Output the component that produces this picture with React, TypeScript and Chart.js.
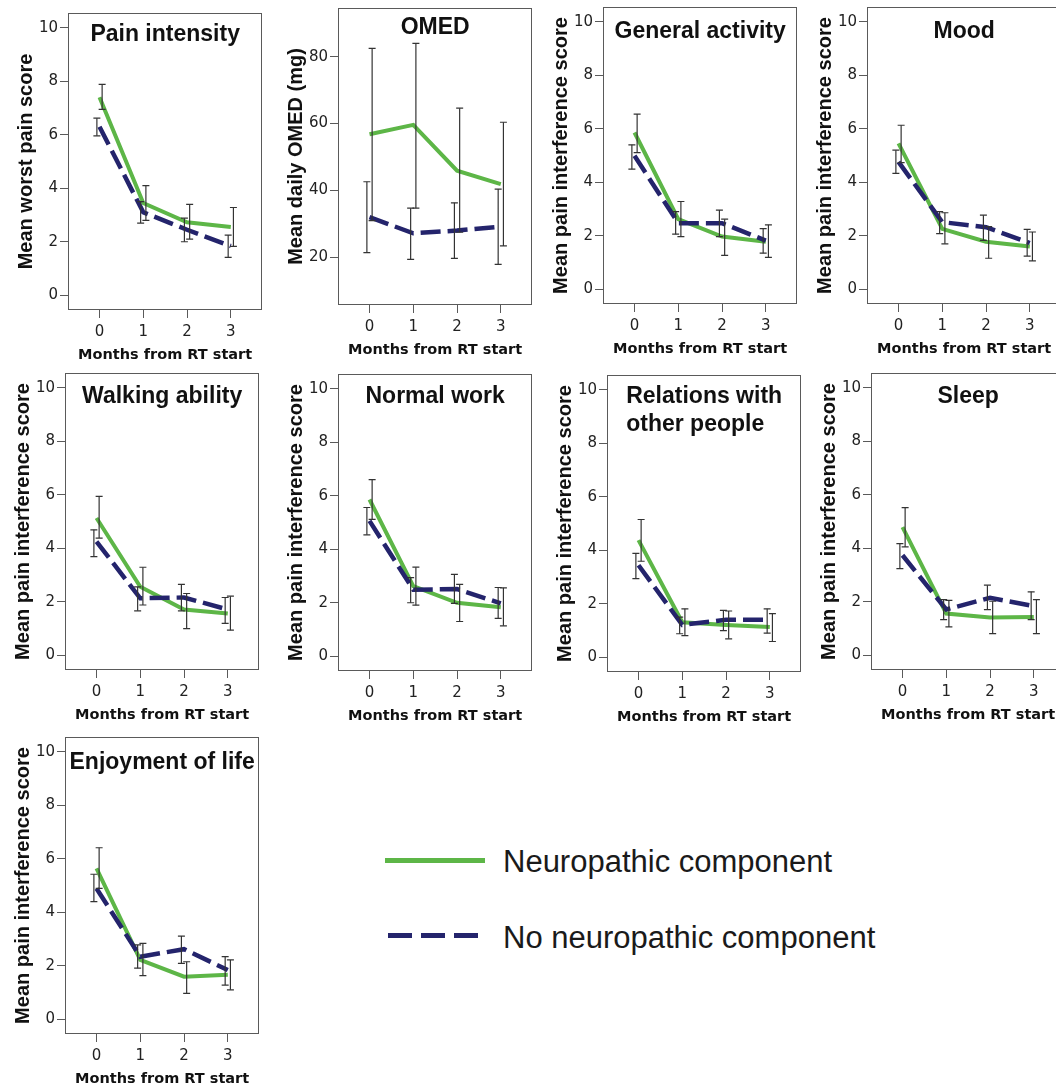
import React, { useEffect, useRef } from "react";
import { Chart, registerables } from "chart.js";

Chart.register(...registerables);

// ---------- data ----------
const months = [0, 1, 2, 3];
const scoreTicks = [0, 2, 4, 6, 8, 10];
const omedTicks = [20, 40, 60, 80];
const seriesNames = ["Neuropathic component", "No neuropathic component"];
const xAxisLabel = "Months from RT start";
const interferenceLabel = "Mean pain interference score";

// Pain intensity
const painNeuro = [7.4, 3.45, 2.73, 2.55];
const painNeuroLow = [6.95, 2.8, 2.1, 1.83];
const painNeuroHigh = [7.88, 4.1, 3.4, 3.28];
const painNone = [6.3, 3.1, 2.45, 1.84];
const painNoneLow = [5.96, 2.7, 2.0, 1.42];
const painNoneHigh = [6.62, 3.5, 2.88, 2.25];

// OMED
const omedNeuro = [56.8, 59.6, 45.9, 41.9];
const omedNeuroLow = [31, 34.7, 27.5, 23.4];
const omedNeuroHigh = [82.5, 84, 64.6, 60.4];
const omedNone = [32, 27.2, 28, 29.2];
const omedNoneLow = [21.4, 19.4, 19.7, 17.9];
const omedNoneHigh = [42.6, 34.7, 36.3, 40.4];

// General activity
const activityNeuro = [5.86, 2.62, 1.97, 1.78];
const activityNeuroLow = [5.11, 1.97, 1.27, 1.19];
const activityNeuroHigh = [6.55, 3.28, 2.62, 2.41];
const activityNone = [4.99, 2.47, 2.47, 1.82];
const activityNoneLow = [4.49, 2.06, 1.97, 1.35];
const activityNoneHigh = [5.4, 2.9, 2.96, 2.27];

// Mood
const moodNeuro = [5.45, 2.26, 1.78, 1.6];
const moodNeuroLow = [4.73, 1.7, 1.16, 1.06];
const moodNeuroHigh = [6.13, 2.86, 2.34, 2.14];
const moodNone = [4.76, 2.51, 2.32, 1.73];
const moodNoneLow = [4.33, 2.08, 1.83, 1.24];
const moodNoneHigh = [5.2, 2.9, 2.77, 2.24];

// Walking ability
const walkNeuro = [5.13, 2.56, 1.71, 1.56];
const walkNeuroLow = [4.38, 1.88, 1.0, 0.94];
const walkNeuroHigh = [5.94, 3.29, 2.31, 2.21];
const walkNone = [4.25, 2.13, 2.16, 1.71];
const walkNoneLow = [3.69, 1.66, 1.66, 1.19];
const walkNoneHigh = [4.69, 2.56, 2.65, 2.16];

// Normal work
const workNeuro = [5.86, 2.62, 2.0, 1.83];
const workNeuroLow = [5.12, 1.91, 1.3, 1.14];
const workNeuroHigh = [6.6, 3.33, 2.69, 2.56];
const workNone = [5.06, 2.49, 2.51, 1.98];
const workNoneLow = [4.54, 2.0, 1.98, 1.42];
const workNoneHigh = [5.56, 2.94, 3.06, 2.57];

// Relations with other people
const relNeuro = [4.38, 1.31, 1.21, 1.13];
const relNeuroLow = [3.59, 0.81, 0.69, 0.59];
const relNeuroHigh = [5.15, 1.81, 1.73, 1.63];
const relNone = [3.44, 1.21, 1.4, 1.4];
const relNoneLow = [2.94, 0.88, 1.0, 0.9];
const relNoneHigh = [3.88, 1.5, 1.75, 1.81];

// Sleep
const sleepNeuro = [4.79, 1.56, 1.41, 1.43];
const sleepNeuroLow = [4.05, 1.06, 0.81, 0.81];
const sleepNeuroHigh = [5.52, 2.05, 2.02, 2.08];
const sleepNone = [3.74, 1.71, 2.15, 1.84];
const sleepNoneLow = [3.24, 1.33, 1.71, 1.33];
const sleepNoneHigh = [4.17, 2.08, 2.62, 2.37];

// Enjoyment of life
const enjoyNeuro = [5.64, 2.22, 1.59, 1.66];
const enjoyNeuroLow = [4.89, 1.63, 0.97, 1.1];
const enjoyNeuroHigh = [6.41, 2.84, 2.15, 2.22];
const enjoyNone = [4.89, 2.34, 2.62, 1.84];
const enjoyNoneLow = [4.4, 1.91, 2.09, 1.28];
const enjoyNoneHigh = [5.42, 2.78, 3.11, 2.34];

const panels = [
  { title: ["Pain intensity"], yLabel: "Mean worst pain score", yTicks: scoreTicks, yMin: -0.55, yMax: 10.55,
    neuro: painNeuro, neuroLow: painNeuroLow, neuroHigh: painNeuroHigh, none: painNone, noneLow: painNoneLow, noneHigh: painNoneHigh },
  { title: ["OMED"], yLabel: "Mean daily OMED (mg)", yTicks: omedTicks, yMin: 5.74, yMax: 94.56,
    neuro: omedNeuro, neuroLow: omedNeuroLow, neuroHigh: omedNeuroHigh, none: omedNone, noneLow: omedNoneLow, noneHigh: omedNoneHigh },
  { title: ["General activity"], yLabel: interferenceLabel, yTicks: scoreTicks, yMin: -0.55, yMax: 10.55,
    neuro: activityNeuro, neuroLow: activityNeuroLow, neuroHigh: activityNeuroHigh, none: activityNone, noneLow: activityNoneLow, noneHigh: activityNoneHigh },
  { title: ["Mood"], yLabel: interferenceLabel, yTicks: scoreTicks, yMin: -0.55, yMax: 10.55,
    neuro: moodNeuro, neuroLow: moodNeuroLow, neuroHigh: moodNeuroHigh, none: moodNone, noneLow: moodNoneLow, noneHigh: moodNoneHigh },
  { title: ["Walking ability"], yLabel: interferenceLabel, yTicks: scoreTicks, yMin: -0.55, yMax: 10.55,
    neuro: walkNeuro, neuroLow: walkNeuroLow, neuroHigh: walkNeuroHigh, none: walkNone, noneLow: walkNoneLow, noneHigh: walkNoneHigh },
  { title: ["Normal work"], yLabel: interferenceLabel, yTicks: scoreTicks, yMin: -0.55, yMax: 10.55,
    neuro: workNeuro, neuroLow: workNeuroLow, neuroHigh: workNeuroHigh, none: workNone, noneLow: workNoneLow, noneHigh: workNoneHigh },
  { title: ["Relations with", "other people"], yLabel: interferenceLabel, yTicks: scoreTicks, yMin: -0.55, yMax: 10.55,
    neuro: relNeuro, neuroLow: relNeuroLow, neuroHigh: relNeuroHigh, none: relNone, noneLow: relNoneLow, noneHigh: relNoneHigh },
  { title: ["Sleep"], yLabel: interferenceLabel, yTicks: scoreTicks, yMin: -0.55, yMax: 10.55,
    neuro: sleepNeuro, neuroLow: sleepNeuroLow, neuroHigh: sleepNeuroHigh, none: sleepNone, noneLow: sleepNoneLow, noneHigh: sleepNoneHigh },
  { title: ["Enjoyment of life"], yLabel: interferenceLabel, yTicks: scoreTicks, yMin: -0.55, yMax: 10.55,
    neuro: enjoyNeuro, neuroLow: enjoyNeuroLow, neuroHigh: enjoyNeuroHigh, none: enjoyNone, noneLow: enjoyNoneLow, noneHigh: enjoyNoneHigh },
];

// ---------- layout & style ----------
const boxes = [
  { left: 68, top: 13, titleDy: 22 },
  { left: 338, top: 8, titleDy: 20 },
  { left: 603, top: 7, titleDy: 25 },
  { left: 867, top: 7, titleDy: 25 },
  { left: 65, top: 373, titleDy: 24 },
  { left: 338, top: 374, titleDy: 23 },
  { left: 607, top: 375, titleDy: 22 },
  { left: 871, top: 373, titleDy: 24 },
  { left: 65, top: 737, titleDy: 26 },
];

const AXIS_W = 68;
const BOX_W = 197;
const BOX_H = 297;
const PAD_TOP = 5;
const PAD_RIGHT = 2;
const XAXIS_H = 60;
const CW = AXIS_W + BOX_W + PAD_RIGHT;
const CH = PAD_TOP + BOX_H + XAXIS_H;

const GREEN = "#5db647";
const NAVY = "#24246c";
const BAR = "#333333";
const FRAME = "#5a5a5a";
const SANS = '"Liberation Sans", Arial, Helvetica, sans-serif';
const DEJAVU = '"DejaVu Sans", Verdana, sans-serif';

const framePlugin = {
  id: "panelFrame",
  afterDraw(chart: any, _args: any, opts: any) {
    const { ctx, chartArea: a } = chart;
    ctx.save();
    ctx.strokeStyle = FRAME;
    ctx.lineWidth = 1;
    ctx.strokeRect(Math.round(a.left) + 0.5, Math.round(a.top) + 0.5, Math.round(a.right - a.left) - 1, Math.round(a.bottom - a.top) - 1);
    ctx.font = `bold 23px ${SANS}`;
    ctx.fillStyle = "#111";
    ctx.textBaseline = "middle";
    ctx.textAlign = "left";
    const lines: string[] = opts.lines || [];
    const widths = lines.map((l) => ctx.measureText(l).width);
    const maxW = Math.max(...widths);
    const cx = (a.left + a.right) / 2;
    lines.forEach((l, i) => {
      const x = lines.length > 1 ? cx - maxW / 2 : cx - widths[i] / 2;
      ctx.fillText(l, x, a.top + opts.dy + i * 28);
    });
    ctx.restore();
  },
};

function errorData(low: number[], high: number[], off: number) {
  const pts: any[] = [];
  months.forEach((m, i) => {
    pts.push({ x: m + off, y: low[i] }, { x: m + off, y: high[i] }, { x: m + off, y: null });
  });
  return pts;
}

function errorDataset(low: number[], high: number[], off: number) {
  return {
    data: errorData(low, high, off),
    borderColor: BAR,
    borderWidth: 1.2,
    pointStyle: "line",
    pointRadius: 3.5,
    pointHoverRadius: 3.5,
    pointBorderColor: BAR,
    pointBorderWidth: 1.2,
    spanGaps: false,
    order: 1,
  };
}

function buildConfig(p: any, box: any): any {
  return {
    type: "line",
    data: {
      datasets: [
        {
          label: seriesNames[0],
          data: months.map((m, i) => ({ x: m, y: p.neuro[i] })),
          borderColor: GREEN,
          borderWidth: 4,
          pointRadius: 0,
          tension: 0,
          order: 3,
        },
        {
          label: seriesNames[1],
          data: months.map((m, i) => ({ x: m, y: p.none[i] })),
          borderColor: NAVY,
          borderWidth: 4.5,
          borderDash: [20, 7],
          pointRadius: 0,
          tension: 0,
          order: 2,
        },
        errorDataset(p.noneLow, p.noneHigh, -0.06),
        errorDataset(p.neuroLow, p.neuroHigh, 0.06),
      ],
    },
    options: {
      responsive: false,
      animation: false,
      devicePixelRatio: 1,
      layout: { padding: { left: 0, top: PAD_TOP, right: PAD_RIGHT, bottom: 0 } },
      plugins: {
        legend: { display: false },
        tooltip: { enabled: false },
        panelFrame: { lines: p.title, dy: box.titleDy },
      },
      scales: {
        x: {
          type: "linear",
          min: -0.72,
          max: 3.72,
          afterBuildTicks: (s: any) => {
            s.ticks = months.map((v) => ({ value: v }));
          },
          afterFit: (s: any) => {
            s.height = XAXIS_H;
            s.paddingLeft = 0;
            s.paddingRight = 0;
          },
          grid: { drawOnChartArea: false, drawTicks: true, tickLength: 8, color: FRAME },
          border: { display: false },
          ticks: { padding: 5, color: "#222", font: { family: DEJAVU, size: 15 } },
          title: {
            display: true,
            text: xAxisLabel,
            color: "#111",
            font: { family: DEJAVU, size: 14.5, weight: "bold" },
            padding: { top: 0, bottom: 6 },
          },
        },
        y: {
          type: "linear",
          min: p.yMin,
          max: p.yMax,
          afterBuildTicks: (s: any) => {
            s.ticks = p.yTicks.map((v: number) => ({ value: v }));
          },
          afterFit: (s: any) => {
            s.width = AXIS_W;
            s.paddingTop = 0;
            s.paddingBottom = 0;
          },
          grid: { drawOnChartArea: false, drawTicks: true, tickLength: 8, color: FRAME },
          border: { display: false },
          ticks: { padding: 2, color: "#222", font: { family: DEJAVU, size: 15 } },
          title: {
            display: true,
            text: p.yLabel,
            color: "#111",
            font: { family: SANS, size: 20, weight: "bold" },
            padding: { top: 14, bottom: 0 },
          },
        },
      },
    },
    plugins: [framePlugin],
  };
}

function Panel({ data, box }: { data: any; box: any }) {
  const ref = useRef<HTMLCanvasElement>(null);
  useEffect(() => {
    const chart = new Chart(ref.current as HTMLCanvasElement, buildConfig(data, box));
    return () => chart.destroy();
  }, [data, box]);
  return (
    <canvas
      ref={ref}
      width={CW}
      height={CH}
      style={{ position: "absolute", left: box.left - AXIS_W, top: box.top - PAD_TOP, width: CW, height: CH }}
    />
  );
}

const legendDashes = [388, 421, 454];

export default function App() {
  return (
    <div
      style={{
        position: "absolute",
        left: 0,
        top: 0,
        width: 1056,
        height: 1091,
        overflow: "hidden",
        background: "#fff",
      }}
    >
      {panels.map((p, i) => (
        <Panel key={i} data={p} box={boxes[i]} />
      ))}
      <div style={{ position: "absolute", left: 385, top: 857.5, width: 100, height: 5, background: GREEN }} />
      <div
        style={{
          position: "absolute",
          left: 503,
          top: 846,
          font: `31px ${SANS}`,
          lineHeight: "31px",
          color: "#1a1a1a",
          whiteSpace: "nowrap",
        }}
      >
        {seriesNames[0]}
      </div>
      {legendDashes.map((x) => (
        <div key={x} style={{ position: "absolute", left: x, top: 932.5, width: 24, height: 5, background: NAVY }} />
      ))}
      <div
        style={{
          position: "absolute",
          left: 503,
          top: 922,
          font: `31px ${SANS}`,
          lineHeight: "31px",
          color: "#1a1a1a",
          whiteSpace: "nowrap",
        }}
      >
        {seriesNames[1]}
      </div>
    </div>
  );
}
